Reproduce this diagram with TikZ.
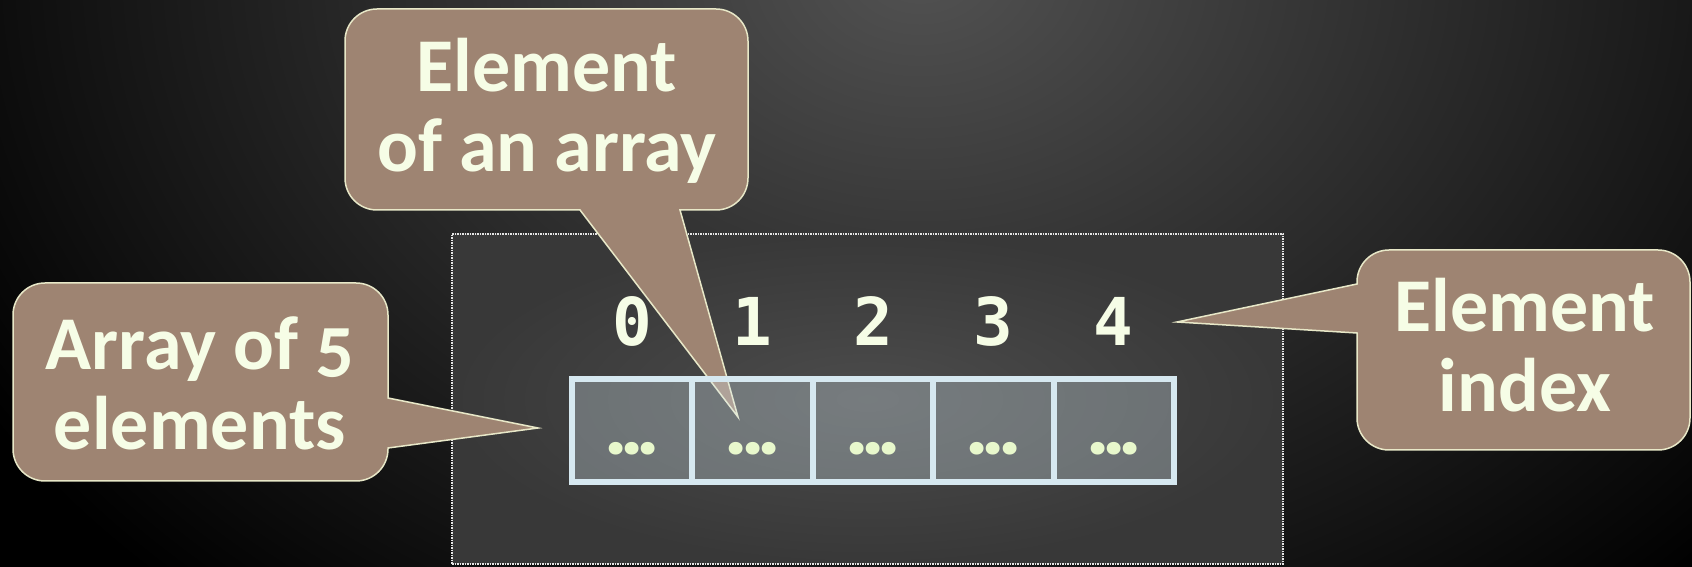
\documentclass[tikz,border=0pt]{standalone}
\usepackage{fontspec}
\newfontfamily\callfont[Numbers=OldStyle]{Carlito}
\newfontfamily\idxfont{DejaVu Sans Mono}
\newfontfamily\dotfont{Poppins}
\definecolor{callfill}{HTML}{9E8472}
\definecolor{callline}{HTML}{E8E8C8}
\definecolor{cream}{HTML}{F6FDE6}
\definecolor{dotcol}{HTML}{E8F8CC}
\definecolor{cellline}{HTML}{D6E8F0}
\definecolor{bgin}{HTML}{525252}
\definecolor{panin}{HTML}{4C4C4C}
\definecolor{panout}{HTML}{383838}
\pgfdeclareradialshading{bgglow}{\pgfpoint{0bp}{0bp}}{color(0bp)=(bgin); color(25bp)=(black); color(50bp)=(black)}
\pgfdeclareradialshading{panelglow}{\pgfpoint{0bp}{0bp}}{color(0bp)=(panin); color(25bp)=(panout); color(50bp)=(panout)}
\tikzset{
  callout/.style={fill=callfill, draw=callline, line width=1.5pt, line join=miter},
  calltext/.style={align=center, text=cream, inner sep=0pt,
    font=\callfont\bfseries\fontsize{76}{80}\selectfont},
  cellbox/.style={draw=cellline, line width=6pt, fill=cellline, fill opacity=0.31,
    text opacity=1, text=dotcol, inner sep=0pt, minimum width=120.4pt,
    text height=76pt, text depth=27pt, anchor=base,
    font=\dotfont\bfseries\fontsize{68}{68}\selectfont},
  idx/.style={text=cream, inner sep=0pt, anchor=base,
    font=\idxfont\bfseries\fontsize{66}{66}\selectfont},
  panelbox/.style={shade, shading=panelglow, draw=white!80!gray, densely dotted,
    line width=1.5pt, inner sep=0pt, minimum width=831pt, minimum height=330pt}
}
\newcommand{\celldots}{.\kern-3pt.\kern-3pt.}
\begin{document}
\begin{tikzpicture}[x=1pt,y=1pt]
\useasboundingbox (0,0) rectangle (1692,567);
\fill[black] (0,0) rectangle (1692,567);
\begin{scope}
  \clip (0,0) rectangle (1692,567);
  \shade[shading=bgglow] (920,600) ellipse [x radius=1100, y radius=850];
\end{scope}

% panel
\node[panelbox] (panel) at (867.5,168) {};

% pointer tips
\coordinate (tipL) at (538,139);
\coordinate (tipT) at (738,150);
\coordinate (tipR) at (1177,245);

% left callout
\draw[callout] (45,284) -- (356,284) arc[start angle=90,end angle=0,radius=32]
  -- (388,169) -- (tipL) -- (388,119) -- (388,118) arc[start angle=0,end angle=-90,radius=32]
  -- (45,86) arc[start angle=-90,end angle=-180,radius=32]
  -- (13,252) arc[start angle=180,end angle=90,radius=32] -- cycle;
% top callout
\draw[callout] (377,558) -- (716,558) arc[start angle=90,end angle=0,radius=32]
  -- (748,389) arc[start angle=0,end angle=-90,radius=32]
  -- (680,357) -- (tipT) -- (580,357)
  -- (377,357) arc[start angle=-90,end angle=-180,radius=32]
  -- (345,526) arc[start angle=180,end angle=90,radius=32] -- cycle;
% right callout
\draw[callout] (1389,317) -- (1658,317) arc[start angle=90,end angle=0,radius=32]
  -- (1690,149) arc[start angle=0,end angle=-90,radius=32]
  -- (1389,117) arc[start angle=-90,end angle=-180,radius=32]
  -- (1357,234) -- (tipR) -- (1357,283)
  -- (1357,285) arc[start angle=180,end angle=90,radius=32] -- cycle;

\node[calltext] (tL) at (200,184) {Array of 5\\elements};
\node[calltext] (tT) at (547,456) {Element\\of an array};
\node[calltext] (tR) at (1525,222) {Element\\index};

% array cells
\foreach \i/\x in {0/632.2,1/752.6,2/873.0,3/993.4,4/1113.8}{
  \node[cellbox] (c\i) at (\x,112) {\celldots};
  \node[idx] (d\i) at (\x,221) {\i};
}
\end{tikzpicture}
\end{document}
